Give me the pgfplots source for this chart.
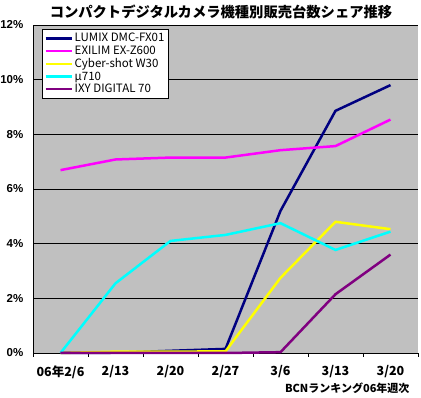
\documentclass[border=0pt]{standalone}
\usepackage{pgfplots}
\pgfplotsset{compat=1.18}
\usepackage{fontspec}
\setmainfont{Noto Sans CJK JP}
\newfontfamily\jp{Noto Sans CJK JP}
\newfontfamily\lib{Liberation Sans}
\definecolor{bggray}{RGB}{192,192,192}
\definecolor{cnavy}{RGB}{0,0,128}
\definecolor{cmag}{RGB}{255,0,255}
\definecolor{cyel}{RGB}{255,255,0}
\definecolor{ccyan}{RGB}{0,255,255}
\definecolor{cpurp}{RGB}{128,0,128}
\begin{document}
\begin{tikzpicture}
\path[use as bounding box] (0,0) rectangle (421bp,398bp);
\node[font={\jp\bfseries\fontsize{14.3bp}{16bp}\selectfont}] at (221bp,386bp) {コンパクトデジタルカメラ機種別販売台数シェア推移};
\begin{axis}[
  at={(33bp,45bp)}, anchor=south west,
  scale only axis, width=385bp, height=328bp,
  xmin=-0.5, xmax=6.5, ymin=0, ymax=12,
  axis background/.style={fill=bggray},
  axis x line*=bottom, axis y line*=left,
  axis line style={black, line width=0.8bp, -},
  xtick={-0.5,0.5,...,6.5},
  x tick label as interval,
  xticklabels={06年2/6,2/13,2/20,2/27,3/6,3/13,3/20},
  xticklabel style={font={\jp\bfseries\fontsize{12.5bp}{14bp}\selectfont}, yshift=-5bp},
  ytick={0,2,...,12},
  yticklabels={0\%,2\%,4\%,6\%,8\%,10\%,12\%},
  yticklabel style={font={\lib\bfseries\fontsize{11.5bp}{13bp}\selectfont}, xshift=-4bp, inner sep=1.5bp},
  tick align=outside,
  major tick length=4bp,
  x tick style={black, line width=0.8bp},
  y tick style={draw=none},
  ymajorgrids,
  major grid style={black, line width=0.8bp},
  xlabel={BCNランキング06年週次},
  xlabel style={at={(rel axis cs:0.987,0)}, anchor=east, yshift=-35bp, font={\jp\bfseries\fontsize{11bp}{13bp}\selectfont}},
  legend style={at={(rel axis cs:0.023,0.988)}, anchor=north west, draw=black, fill=white, line width=0.8bp,
    font={\jp\fontsize{11.5bp}{13bp}\selectfont}, row sep=-1.4bp, inner sep=2bp},
  legend cell align=left,
  legend image code/.code={\draw[#1, line width=2.5bp] (0bp,0bp) -- (26bp,0bp);},
  every axis plot/.append style={line width=2.5bp},
  clip=false,
]
\addplot[cnavy] coordinates {(0,0) (1,0.01) (2,0.08) (3,0.15) (4,5.2) (5,8.86) (6,9.8)};
\addlegendentry{LUMIX DMC-FX01}
\addplot[cmag] coordinates {(0,6.69) (1,7.08) (2,7.15) (3,7.15) (4,7.42) (5,7.57) (6,8.54)};
\addlegendentry{EXILIM EX-Z600}
\addplot[cyel] coordinates {(0,0) (1,0.05) (2,0.05) (3,0.06) (4,2.75) (5,4.8) (6,4.53)};
\addlegendentry{Cyber-shot W30}
\addplot[ccyan] coordinates {(0,0) (1,2.55) (2,4.1) (3,4.32) (4,4.75) (5,3.77) (6,4.44)};
\addlegendentry{μ710}
\addplot[cpurp] coordinates {(0,0) (1,0) (2,0) (3,0) (4,0.03) (5,2.15) (6,3.6)};
\addlegendentry{IXY DIGITAL 70}
\end{axis}
\end{tikzpicture}
\end{document}
